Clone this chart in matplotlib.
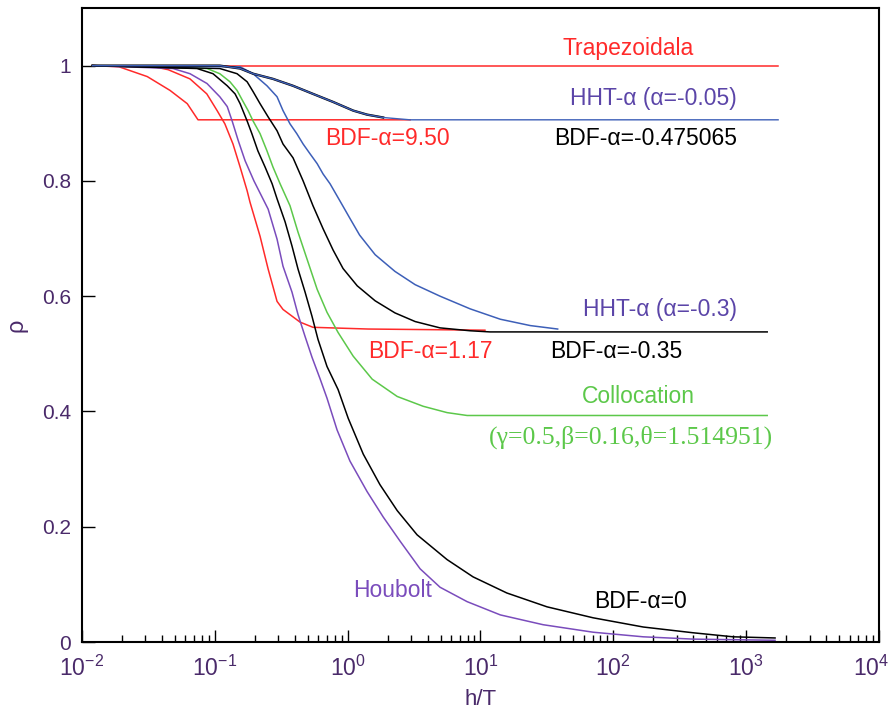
import matplotlib
matplotlib.use('Agg')
import matplotlib.pyplot as plt
from matplotlib.ticker import LogLocator, NullFormatter, FixedLocator

plt.rcParams['font.family'] = ['Liberation Sans', 'DejaVu Sans']
plt.rcParams['mathtext.fontset'] = 'custom'
plt.rcParams['mathtext.rm'] = 'Liberation Sans'
plt.rcParams['mathtext.default'] = 'regular'

# spectral radius rho vs h/T
trap_x = [0.012, 1740]
trap_y = [1.0, 1.0]

bdf950_x = [0.012, 0.019, 0.031, 0.046, 0.062, 0.0747, 2.95]
bdf950_y = [1.0, 0.998, 0.981, 0.957, 0.934, 0.906, 0.906]

bdf117_x = [0.012, 0.035, 0.0445, 0.065, 0.087, 0.104, 0.119, 0.137, 0.155, 0.175,
            0.184, 0.219, 0.252, 0.294, 0.326, 0.438, 0.548, 1.43, 10.8]
bdf117_y = [1.0, 0.998, 0.993, 0.977, 0.951, 0.922, 0.899, 0.864, 0.824, 0.783,
            0.763, 0.704, 0.647, 0.591, 0.577, 0.555, 0.546, 0.543, 0.541]

houbolt_x = [0.012, 0.0484, 0.065, 0.0873, 0.109, 0.124, 0.135, 0.150, 0.169, 0.197,
             0.252, 0.294, 0.326, 0.381, 0.423, 0.478, 0.539, 0.619, 0.699, 0.832,
             1.04, 1.40, 1.85, 2.48, 3.51, 4.96, 7.93, 14.1, 29.6, 70.4, 168, 399, 1650]
houbolt_y = [1.0, 0.995, 0.986, 0.969, 0.946, 0.929, 0.904, 0.870, 0.835, 0.800,
             0.751, 0.699, 0.652, 0.607, 0.568, 0.530, 0.494, 0.457, 0.423, 0.368,
             0.314, 0.261, 0.217, 0.175, 0.127, 0.095, 0.070, 0.047, 0.030, 0.017, 0.009, 0.005, 0.003]

bdf0_x = [0.012, 0.0735, 0.0969, 0.124, 0.142, 0.155, 0.175, 0.190, 0.211, 0.239, 0.270,
          0.294, 0.338, 0.381, 0.423, 0.478, 0.539, 0.598, 0.699, 0.847, 1.01, 1.31,
          1.75, 2.36, 3.33, 5.60, 8.79, 15.8, 31.7, 70.4, 168, 399, 798, 1650]
bdf0_y = [1.0, 0.995, 0.986, 0.965, 0.951, 0.934, 0.904, 0.882, 0.852, 0.824, 0.795,
          0.769, 0.729, 0.687, 0.647, 0.607, 0.565, 0.525, 0.478, 0.438, 0.388, 0.326,
          0.273, 0.228, 0.186, 0.143, 0.113, 0.085, 0.061, 0.042, 0.026, 0.016, 0.009, 0.007]

coll_x = [0.012, 0.0873, 0.109, 0.130, 0.147, 0.162, 0.178, 0.194, 0.219, 0.247, 0.274,
          0.310, 0.368, 0.423, 0.495, 0.589, 0.699, 0.847, 1.10, 1.53, 2.36, 3.70,
          5.60, 7.93, 1440]
coll_y = [1.0, 0.995, 0.986, 0.972, 0.957, 0.939, 0.922, 0.904, 0.882, 0.852, 0.824,
          0.795, 0.757, 0.711, 0.664, 0.612, 0.572, 0.537, 0.496, 0.456, 0.426, 0.409,
          0.398, 0.393, 0.393]

bdf035_x = [0.012, 0.109, 0.147, 0.175, 0.194, 0.219, 0.252, 0.294, 0.326, 0.388, 0.462,
            0.548, 0.653, 0.777, 0.923, 1.18, 1.61, 2.27, 3.22, 4.96, 8.36, 11.8, 1440]
bdf035_y = [1.0, 0.995, 0.986, 0.972, 0.955, 0.934, 0.911, 0.887, 0.864, 0.840, 0.800,
            0.757, 0.717, 0.680, 0.648, 0.618, 0.592, 0.571, 0.556, 0.545, 0.540, 0.538, 0.538]

hht03_x = [0.012, 0.155, 0.194, 0.247, 0.294, 0.326, 0.368, 0.414, 0.462, 0.521, 0.589,
           0.653, 0.737, 0.876, 1.04, 1.23, 1.61, 2.27, 3.22, 4.96, 8.36, 14.1, 23.7, 38.1]
hht03_y = [1.0, 0.998, 0.986, 0.965, 0.946, 0.922, 0.899, 0.882, 0.864, 0.847, 0.830,
           0.812, 0.795, 0.765, 0.735, 0.706, 0.672, 0.643, 0.620, 0.600, 0.578, 0.560, 0.549, 0.543]

hht005_x = [0.012, 0.109, 0.155, 0.194, 0.274, 0.388, 0.548, 0.777, 1.10, 1.40, 1.85, 2.95, 1740]
hht005_y = [1.0, 1.0, 0.995, 0.986, 0.977, 0.965, 0.951, 0.937, 0.922, 0.915, 0.910, 0.906, 0.906]

bdf0475_x = hht005_x[:11]
bdf0475_y = hht005_y[:11]

yticks = [0, 0.2, 0.4, 0.6, 0.8, 1.0]
ytick_labels = ['0', '0.2', '0.4', '0.6', '0.8', '1']
xticks = [1e-2, 1e-1, 1e0, 1e1, 1e2, 1e3, 1e4]
xtick_labels = ['$10^{-2}$', '$10^{-1}$', '$10^{0}$', '$10^{1}$', '$10^{2}$', '$10^{3}$', '$10^{4}$']

red = '#ff2a2a'
blue = '#3d5fb8'
green = '#5cc84a'
purple = '#7a4cbc'
txt_purple = '#5b45a8'
tick_col = '#4a2a6a'

fig = plt.figure(figsize=(8.91, 7.15), dpi=100)
ax = fig.add_axes([82 / 891, 73 / 715, 797 / 891, 634 / 715])

lw = 1.1
ax.plot(trap_x, trap_y, color=red, lw=lw)
ax.plot(bdf950_x, bdf950_y, color=red, lw=lw)
ax.plot(bdf117_x, bdf117_y, color=red, lw=lw)
ax.plot(coll_x, coll_y, color=green, lw=lw)
ax.plot(houbolt_x, houbolt_y, color=purple, lw=lw)
ax.plot(bdf0_x, bdf0_y, color='black', lw=lw)
ax.plot(bdf035_x, bdf035_y, color='black', lw=lw)
ax.plot(hht03_x, hht03_y, color=blue, lw=lw)
ax.plot(bdf0475_x, bdf0475_y, color='black', lw=1.7)
ax.plot(hht005_x, hht005_y, color=blue, lw=1.0)

ax.set_xscale('log')
ax.set_xlim(1e-2, 1e4)
ax.set_ylim(0, 1.1)
ax.xaxis.set_major_locator(FixedLocator(xticks))
ax.xaxis.set_minor_locator(LogLocator(base=10, subs=range(2, 10), numticks=100))
ax.xaxis.set_major_formatter(NullFormatter())
ax.xaxis.set_minor_formatter(NullFormatter())
ax.yaxis.set_major_locator(FixedLocator(yticks))
ax.set_yticklabels(ytick_labels)

ax.tick_params(which='major', direction='in', length=9, width=1.0, labelcolor=tick_col)
ax.tick_params(axis='y', labelsize=15, pad=8)
ax.tick_params(which='minor', direction='in', length=5, width=1.0)
for s in ax.spines.values():
    s.set_linewidth(1.5)

# decade labels under the x axis (last one kept inside the figure)
for i, (v, s) in enumerate(zip(xticks, xtick_labels)):
    last = i == len(xticks) - 1
    ax.annotate(s, xy=(v, 0), xycoords=('data', 'axes fraction'),
                xytext=(7 if last else 0, -10), textcoords='offset points',
                ha='right' if last else 'center', va='top',
                fontsize=16.5, color=tick_col)

ax.set_xlabel('h/T', fontsize=16, color=tick_col)
ax.xaxis.set_label_coords(0.5, -0.074)
ax.set_ylabel('ρ', fontsize=17, color=tick_col, labelpad=10)

fs = 16.5
ax.text(129, 1.030, 'Trapezoidala', color=red, fontsize=fs, ha='center', va='center')
ax.text(855, 0.943, 'HHT-α (α=-0.05)', color=txt_purple, fontsize=fs, ha='right', va='center')
ax.text(0.676, 0.873, 'BDF-α=9.50', color=red, fontsize=fs, ha='left', va='center')
ax.text(855, 0.873, 'BDF-α=-0.475065', color='black', fontsize=fs, ha='right', va='center')
ax.text(855, 0.577, 'HHT-α (α=-0.3)', color=txt_purple, fontsize=fs, ha='right', va='center')
ax.text(1.425, 0.504, 'BDF-α=1.17', color=red, fontsize=fs, ha='left', va='center')
ax.text(33.4, 0.504, 'BDF-α=-0.35', color='black', fontsize=fs, ha='left', va='center')
ax.text(154, 0.426, 'Collocation', color=green, fontsize=fs, ha='center', va='center')
ax.text(136, 0.355, '(γ=0.5,β=0.16,θ=1.514951)', color=green, fontsize=18.5,
        ha='center', va='center', family=['Liberation Serif', 'DejaVu Serif'])
ax.text(2.16, 0.089, 'Houbolt', color=purple, fontsize=fs, ha='center', va='center')
ax.text(159, 0.070, 'BDF-α=0', color='black', fontsize=fs, ha='center', va='center')

fig.savefig('out.png', dpi=100)
